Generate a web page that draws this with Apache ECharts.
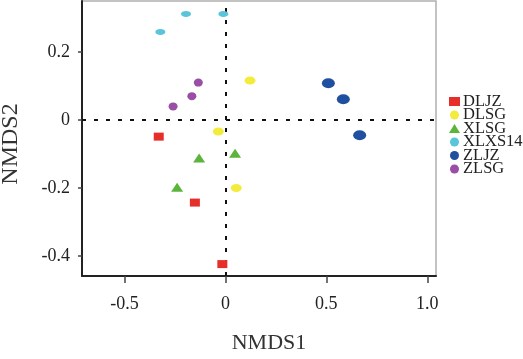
<!DOCTYPE html>
<html><head><meta charset="utf-8">
<script src="https://cdn.jsdelivr.net/npm/echarts@6/dist/echarts.min.js"></script>
<style>html,body{margin:0;padding:0;background:#fff}#c{width:523px;height:359px}</style>
</head><body><div id="c"></div>
<script>
const groups = ['DLJZ','DLSG','XLSG','XLXS14','ZLJZ','ZLSG'];
const DLJZ = [[-0.330,-0.049],[-0.151,-0.243],[-0.015,-0.424]];
const DLSG = [[0.122,0.116],[-0.035,-0.034],[0.054,-0.200]];
const XLSG = [[-0.130,-0.112],[0.048,-0.098],[-0.239,-0.198]];
const XLXS14 = [[-0.195,0.312],[-0.010,0.312],[-0.322,0.259]];
const ZLJZ = [[0.510,0.108],[0.584,0.061],[0.665,-0.045]];
const ZLSG = [[-0.134,0.110],[-0.166,0.070],[-0.259,0.040]];
const xTicks = [-0.5, 0, 0.5, 1.0];
const yTicks = [-0.4, -0.2, 0, 0.2];

const dataMap = {DLJZ, DLSG, XLSG, XLXS14, ZLJZ, ZLSG};
const colors = {DLJZ:'#e62e2a', DLSG:'#f3ec3c', XLSG:'#5cb43a', XLXS14:'#5ac4da', ZLJZ:'#1f4f9f', ZLSG:'#9a4ea6'};
const symbols = {DLJZ:'rect', DLSG:'circle', XLSG:'triangle', XLXS14:'circle', ZLJZ:'circle', ZLSG:'circle'};
const sizes = {DLJZ:[10,8], DLSG:[11,8], XLSG:[12,9], XLXS14:[10,6], ZLJZ:[13,10], ZLSG:[9,8]};
const fmt = v => (Math.abs(v) < 1e-9 ? '0' : Number(v).toFixed(1));
const font = 'Liberation Serif';

const series = groups.map((g, i) => ({
  name: g, type: 'scatter', data: dataMap[g], symbol: symbols[g], symbolSize: sizes[g],
  itemStyle: {color: colors[g], opacity: 1}, z: 3,
  markLine: i === 0 ? {
    silent: true, symbol: 'none', label: {show: false},
    lineStyle: {color: '#111', type: [4, 8], width: 2},
    data: [{xAxis: 0}, {yAxis: 0}], z: 1
  } : undefined
}));

const chart = echarts.init(document.getElementById('c'));
chart.setOption({
  animation: false,
  grid: {left: 82, right: 87, top: 1, bottom: 83, show: true, borderColor: '#b0b0b0', borderWidth: 1.5,
         containLabel: false, outerBoundsMode: 'none'},
  legend: {
    orient: 'vertical', left: 444, top: 88, itemGap: -3.5, itemWidth: 11, itemHeight: 9,
    data: groups.map(g => ({name: g, icon: symbols[g]})),
    textStyle: {fontFamily: font, fontSize: 16.5, color: '#222', padding: [0,0,0,-2]}
  },
  xAxis: {
    type: 'value', min: -0.71, max: 1.043,
    name: 'NMDS1', nameLocation: 'middle', nameGap: 56,
    nameTextStyle: {fontFamily: font, fontSize: 22, color: '#333', padding: [0,0,0,20]},
    axisLine: {show: true, onZero: false, lineStyle: {color: '#222', width: 2}},
    axisTick: {show: true, customValues: xTicks, length: 7, lineStyle: {color: '#444', width: 1.5}},
    axisLabel: {customValues: xTicks, formatter: fmt, margin: 19, fontFamily: font, fontSize: 18, color: '#222'},
    splitLine: {show: false}
  },
  yAxis: {
    type: 'value', min: -0.459, max: 0.35,
    name: 'NMDS2', nameLocation: 'middle', nameGap: 59,
    nameTextStyle: {fontFamily: font, fontSize: 24, color: '#333', padding: [0,11,0,0]},
    axisLine: {show: true, onZero: false, lineStyle: {color: '#222', width: 2}},
    axisTick: {show: true, customValues: yTicks, length: 4, lineStyle: {color: '#444', width: 1.5}},
    axisLabel: {customValues: yTicks, formatter: fmt, margin: 12, fontFamily: font, fontSize: 18, color: '#222'},
    splitLine: {show: false}
  },
  series
});
</script></body></html>
